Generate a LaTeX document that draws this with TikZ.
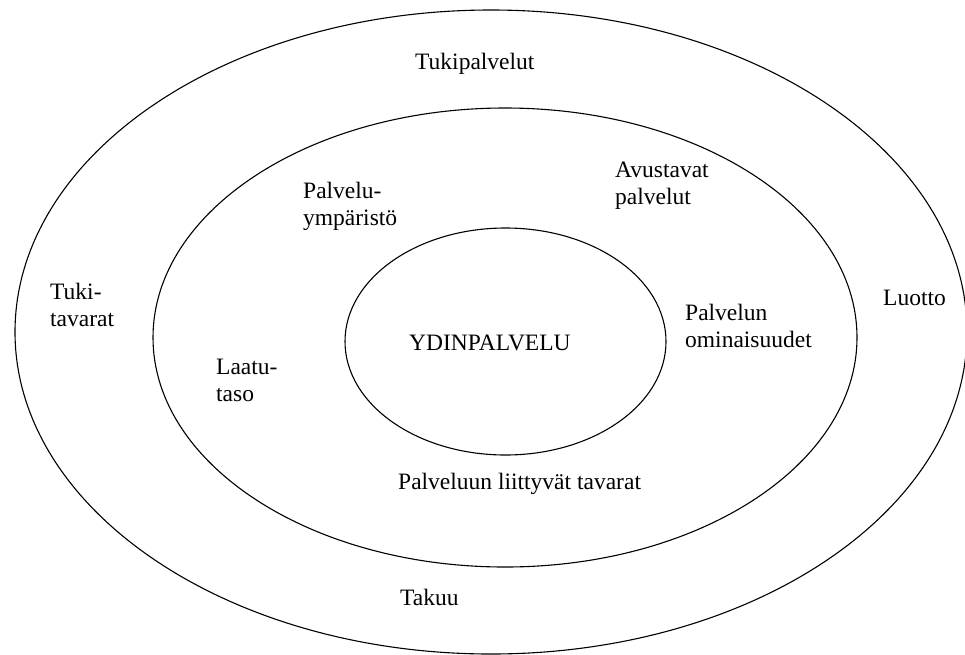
\documentclass[tikz,border=0pt]{standalone}
\usepackage{fontspec}
\setmainfont{Liberation Serif}
\begin{document}
\begin{tikzpicture}[x=1pt,y=-1pt,
  ring/.style={draw=black,line width=1.1pt},
  lbl/.style={inner sep=0pt,anchor=base west,align=left,
    font=\fontsize{23.5}{27}\selectfont}]
\useasboundingbox (0,0) rectangle (965,654);
% three nested levels of the service offering
\draw[ring] (491,332) ellipse [x radius=476, y radius=322];
\draw[ring] (505,337.5) ellipse [x radius=352, y radius=229.5];
\draw[ring] (505.5,341.5) ellipse [x radius=160.5, y radius=113.5];
% labels (two-line labels are placed by the baseline of their last line)
\node[lbl] (ydin) at (409,350) {YDINPALVELU};
\node[lbl] (tukip) at (415,69) {Tukipalvelut};
\node[lbl] (avust) at (615,204) {Avustavat\\palvelut};
\node[lbl] (ymp) at (303,225) {Palvelu-\\ympäristö};
\node[lbl] (tukit) at (50,326) {Tuki-\\tavarat};
\node[lbl] (luotto) at (883,305) {Luotto};
\node[lbl] (omin) at (685,347) {Palvelun\\ominaisuudet};
\node[lbl] (laatu) at (216,401) {Laatu-\\taso};
\node[lbl] (tavarat) at (398,489) {Palveluun liittyvät tavarat};
\node[lbl] (takuu) at (400,605) {Takuu};
\end{tikzpicture}
\end{document}
